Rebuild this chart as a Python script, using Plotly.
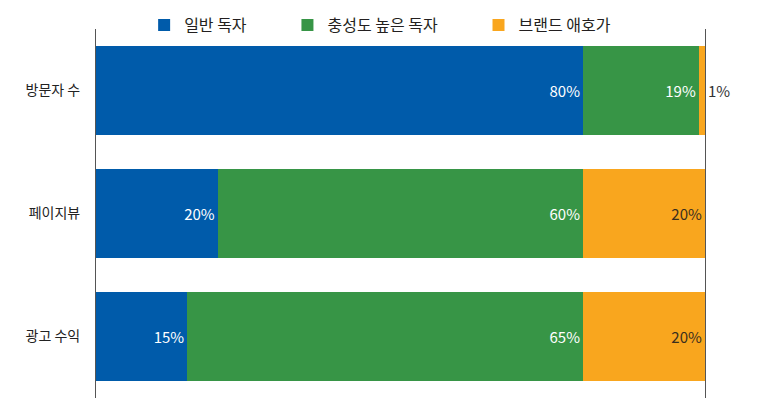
import plotly.graph_objects as go

categories = ['방문자 수', '페이지뷰', '광고 수익']
series_names = ['일반 독자', '충성도 높은 독자', '브랜드 애호가']
general = [80, 20, 15]
loyal = [19, 60, 65]
brand = [1, 20, 20]

colors = ['#005BAA', '#379546', '#F9A61E']
text_colors = ['white', 'white', '#3A2E1E']
pads = [10, 10, 0]

fig = go.Figure()
for name, vals, c, tc, p in zip(series_names, [general, loyal, brand], colors, text_colors, pads):
    pos = ['outside' if v < 5 else 'inside' for v in vals]
    fig.add_trace(go.Bar(
        y=categories, x=vals, name=name + '\u00a0' * p, orientation='h',
        marker=dict(color=c, line=dict(width=0)),
        text=[f'{v}%' for v in vals], textposition=pos,
        insidetextanchor='end',
        insidetextfont=dict(color=tc, size=15),
        outsidetextfont=dict(color='#333333', size=15),
        cliponaxis=False,
    ))

fig.update_layout(
    barmode='stack',
    width=761, height=405,
    margin=dict(l=88, r=64, t=21, b=15, autoexpand=False),
    plot_bgcolor='white', paper_bgcolor='white',
    font=dict(family='Noto Sans CJK KR', size=14, color='#222222'),
    bargap=0.28,
    showlegend=True,
    legend=dict(orientation='h', x=0.489, xanchor='center', xref='container',
                y=1.0, yanchor='top', yref='container',
                font=dict(size=16, color='#231F20'), traceorder='normal'),
    xaxis=dict(range=[0, 100], showgrid=False, showticklabels=False, zeroline=False,
               showline=False, fixedrange=True, automargin=False),
    yaxis=dict(autorange='reversed', showgrid=False, ticks='', ticklabelstandoff=12,
               showline=True, mirror=True, linecolor='#555555', linewidth=1,
               automargin=False),
)

fig.write_html('out.html')
